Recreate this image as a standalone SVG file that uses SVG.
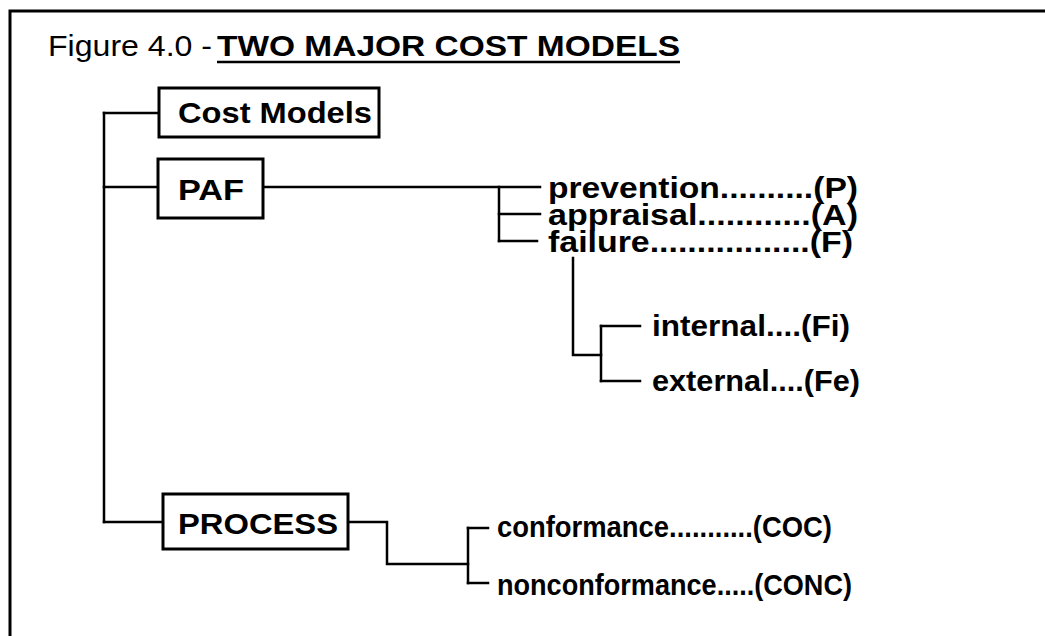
<svg xmlns="http://www.w3.org/2000/svg" width="1045" height="636" viewBox="0 0 1045 636">
  <style>
    .frame { fill: none; stroke: #000; stroke-width: 3; }
    .box { fill: #fff; stroke: #000; stroke-width: 3; }
    .wire { fill: none; stroke: #000; stroke-width: 2.5; stroke-linecap: square; }
    .title { font-family: "Liberation Sans", Arial, sans-serif; font-size: 30px; fill: #000; }
    .lbl { font-family: "Liberation Sans", Arial, sans-serif; font-weight: bold; font-size: 30px; fill: #000; }
  </style>
  <rect width="1045" height="636" fill="#fff"/>

  <!-- page frame: top and left edges only -->
  <path class="frame" d="M10,636 V11 H1045"/>

  <!-- heading -->
  <g id="title">
    <text class="title" x="48" y="56" textLength="164" lengthAdjust="spacingAndGlyphs">Figure 4.0 -</text>
    <text class="lbl" x="217" y="56" textLength="463" lengthAdjust="spacingAndGlyphs">TWO MAJOR COST MODELS</text>
    <line x1="217" y1="62" x2="680" y2="62" stroke="#000" stroke-width="2.5"/>
  </g>

  <!-- connectors -->
  <g id="connectors">
    <path class="wire" d="M104,113 V522"/>
    <path class="wire" d="M104,113 H159"/>
    <path class="wire" d="M104,187 H158"/>
    <path class="wire" d="M104,522 H163"/>
    <path class="wire" d="M263,187 H540"/>
    <path class="wire" d="M499,187 V241"/>
    <path class="wire" d="M499,214 H540"/>
    <path class="wire" d="M499,241 H537"/>
    <path class="wire" d="M573,258 V355 H601"/>
    <path class="wire" d="M601,326 V381"/>
    <path class="wire" d="M601,326 H640"/>
    <path class="wire" d="M601,381 H640"/>
    <path class="wire" d="M348,522 H387 V564 H468"/>
    <path class="wire" d="M468,528 V583"/>
    <path class="wire" d="M468,528 H488"/>
    <path class="wire" d="M468,583 H488"/>
  </g>

  <g id="cost-models">
    <rect class="box" x="159" y="88" width="220" height="49"/>
    <text class="lbl" x="178" y="123" textLength="194" lengthAdjust="spacingAndGlyphs">Cost Models</text>
  </g>
  <g id="paf">
    <rect class="box" x="158" y="159" width="105" height="59"/>
    <text class="lbl" x="178" y="200" textLength="66" lengthAdjust="spacingAndGlyphs">PAF</text>
  </g>
  <g id="process">
    <rect class="box" x="163" y="494" width="185" height="55"/>
    <text class="lbl" x="178" y="534" textLength="160" lengthAdjust="spacingAndGlyphs">PROCESS</text>
  </g>

  <g id="prevention"><text class="lbl" x="548" y="198" textLength="310" lengthAdjust="spacingAndGlyphs">prevention..........(P)</text></g>
  <g id="appraisal"><text class="lbl" x="548" y="225" textLength="310" lengthAdjust="spacingAndGlyphs">appraisal............(A)</text></g>
  <g id="failure"><text class="lbl" x="548" y="252" textLength="305" lengthAdjust="spacingAndGlyphs">failure.................(F)</text></g>
  <g id="internal"><text class="lbl" x="652" y="336" textLength="198" lengthAdjust="spacingAndGlyphs">internal....(Fi)</text></g>
  <g id="external"><text class="lbl" x="652" y="391" textLength="208" lengthAdjust="spacingAndGlyphs">external....(Fe)</text></g>
  <g id="conformance"><text class="lbl" x="497" y="537" textLength="335" lengthAdjust="spacingAndGlyphs">conformance...........(COC)</text></g>
  <g id="nonconformance"><text class="lbl" x="497" y="595" textLength="355" lengthAdjust="spacingAndGlyphs">nonconformance.....(CONC)</text></g>
</svg>
